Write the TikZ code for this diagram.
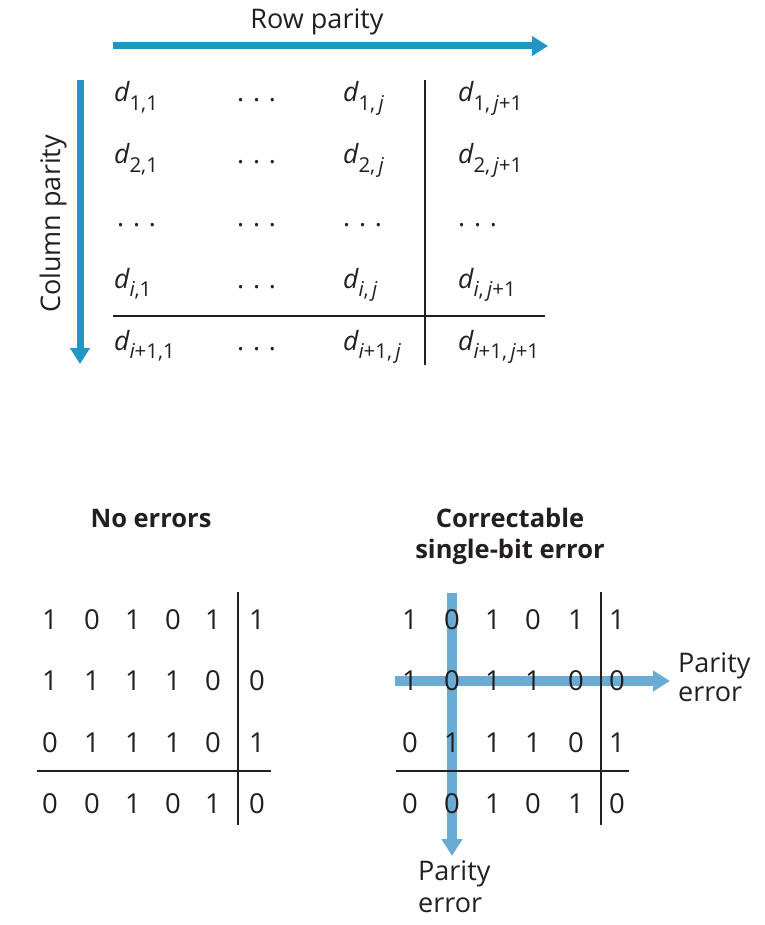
\documentclass[tikz,border=0pt]{standalone}
\usepackage{fontspec}
\setmainfont{Open Sans}
\usetikzlibrary{arrows.meta}
\definecolor{topblue}{HTML}{2196C6}
\definecolor{lightblue}{HTML}{6AABD3}
\definecolor{ink}{HTML}{231F20}
\newcommand{\dd}[1]{{\itshape d}\raisebox{-0.32em}{\fontsize{20.5}{22}\selectfont #1}}
\newcommand{\ii}{{\itshape i}}
\newcommand{\jj}{{\itshape j}}
\begin{document}
\begin{tikzpicture}[x=1pt,y=-1pt,
  lab/.style={inner sep=0pt,text=ink,font=\fontsize{27}{30}\selectfont},
  dcell/.style={inner sep=0pt,anchor=base west,text=ink,font=\fontsize{26.5}{30}\selectfont},
  bit/.style={inner sep=0pt,anchor=base,text=ink,font=\fontsize{27.5}{30}\selectfont},
  ttl/.style={inner sep=0pt,anchor=base,text=ink,font=\fontsize{25.5}{30}\selectfont\bfseries},
  rule/.style={draw=ink,line width=1.8pt},
  toparrow/.style={draw=topblue,line width=7pt,-{Triangle[length=16pt,width=19pt]}},
  errarrow/.style={draw=lightblue,line width=9.5pt,-{Triangle[length=17pt,width=20pt]}}]
\useasboundingbox (0,0) rectangle (764,925);

% ---------- top generic matrix ----------
\coordinate (rpS) at (113,46);
\coordinate (rpE) at (548,46);
\draw[toparrow] (rpS) -- (rpE);
\node[lab,anchor=base] (rowpar) at (317,29) {Row parity};

\coordinate (cpS) at (80,80);
\coordinate (cpE) at (80,364);
\draw[toparrow] (cpS) -- (cpE);
\node[lab,rotate=90] (colpar) at (53,224) {Column parity};

\node[dcell] (a11) at (114,102) {\dd{1,1}};
\node[dcell] (a12) at (237,102) {.\,\,.\,\,.};
\node[dcell] (a13) at (343,102) {\dd{1,\,\jj}};
\node[dcell] (a14) at (458,102) {\dd{1,\,\jj+1}};

\node[dcell] (a21) at (114,164) {\dd{2,1}};
\node[dcell] (a22) at (237,164) {.\,\,.\,\,.};
\node[dcell] (a23) at (343,164) {\dd{2,\,\jj}};
\node[dcell] (a24) at (458,164) {\dd{2,\,\jj+1}};

\node[dcell] (a31) at (117,226) {.\,\,.\,\,.};
\node[dcell] (a32) at (237,226) {.\,\,.\,\,.};
\node[dcell] (a33) at (343,226) {.\,\,.\,\,.};
\node[dcell] (a34) at (458,226) {.\,\,.\,\,.};

\node[dcell] (a41) at (114,288) {\dd{\ii,1}};
\node[dcell] (a42) at (237,288) {.\,\,.\,\,.};
\node[dcell] (a43) at (343,288) {\dd{\ii,\,\jj}};
\node[dcell] (a44) at (458,288) {\dd{\ii,\,\jj+1}};

\node[dcell] (a51) at (114,350) {\dd{\ii+1,1}};
\node[dcell] (a52) at (237,350) {.\,\,.\,\,.};
\node[dcell] (a53) at (343,350) {\dd{\ii+1,\,\jj}};
\node[dcell] (a54) at (458,350) {\dd{\ii+1,\,\jj+1}};

\coordinate (tvT) at (425,80);
\coordinate (tvB) at (425,365);
\coordinate (thL) at (113,316);
\coordinate (thR) at (545,316);
\draw[rule] (tvT) -- (tvB);
\draw[rule] (thL) -- (thR);

% ---------- bottom left: no errors ----------
\node[ttl] (t1) at (151,527) {No errors};
\foreach \r/\y/\bits in {1/629/{1,0,1,0,1,1},2/690/{1,1,1,1,0,0},3/752/{0,1,1,1,0,1},4/813/{0,0,1,0,1,0}}{
  \foreach \b [count=\c] in \bits {
    \pgfmathsetmacro{\xx}{{50,92,133,173,213,257}[\c-1]}
    \node[bit] (L\r\c) at (\xx,\y) {\b};
  }
}
\coordinate (lvT) at (238,592);
\coordinate (lvB) at (238,825);
\coordinate (lhL) at (37,771);
\coordinate (lhR) at (271,771);
\draw[rule] (lvT) -- (lvB);
\draw[rule] (lhL) -- (lhR);

% ---------- bottom right: correctable single-bit error ----------
\node[ttl] (t2a) at (510,527) {Correctable};
\node[ttl] (t2b) at (510,558) {single-bit error};

\coordinate (haS) at (395,681);
\coordinate (haE) at (670,681);
\coordinate (vaS) at (452,593);
\coordinate (vaE) at (452,856);
\draw[errarrow] (vaS) -- (vaE);
\draw[errarrow] (haS) -- (haE);

\foreach \r/\y/\bits in {1/629/{1,0,1,0,1,1},2/690/{1,0,1,1,0,0},3/752/{0,1,1,1,0,1},4/813/{0,0,1,0,1,0}}{
  \foreach \b [count=\c] in \bits {
    \pgfmathsetmacro{\xx}{{410,452,493,533,576,617}[\c-1]}
    \node[bit] (R\r\c) at (\xx,\y) {\b};
  }
}
\coordinate (rvT) at (601,592);
\coordinate (rvB) at (601,825);
\coordinate (rhL) at (396,771);
\coordinate (rhR) at (629,771);
\draw[rule] (rvT) -- (rvB);
\draw[rule] (rhL) -- (rhR);

\node[lab,anchor=base west,align=left] (pe1) at (678,672) {Parity};
\node[lab,anchor=base west,align=left] (pe1b) at (678,701) {error};
\node[lab,anchor=base west,align=left] (pe2) at (418,880) {Parity};
\node[lab,anchor=base west,align=left] (pe2b) at (418,912) {error};
\end{tikzpicture}
\end{document}
